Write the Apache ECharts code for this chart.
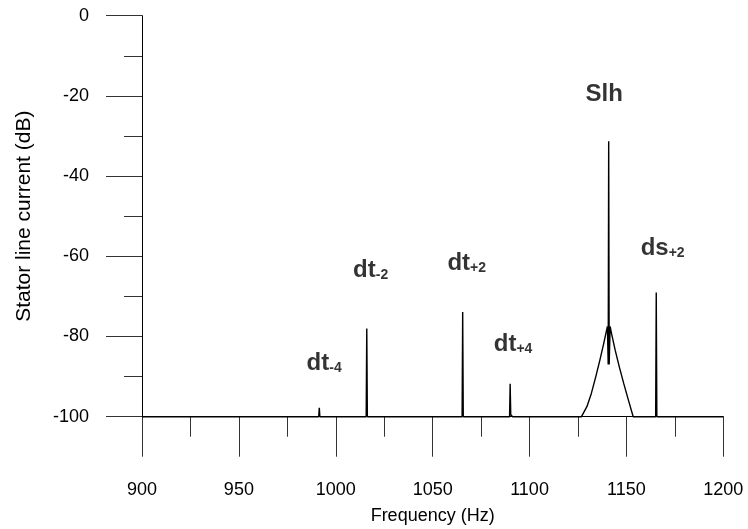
<!DOCTYPE html>
<html><head><meta charset="utf-8">
<script src="https://cdn.jsdelivr.net/npm/echarts@6/dist/echarts.min.js"></script>
<style>html,body{margin:0;padding:0;background:#fff}#c{width:748px;height:529px}</style>
</head><body><div id="c"></div>
<script>
// Spectrum (frequency in Hz, stator line current in dB)
const freqHz = [900, 991.2, 991.5, 991.8, 1015.7, 1016.0, 1016.3, 1065.2, 1065.5, 1065.8,
  1089.7, 1090.0, 1090.3, 1090.8, 1091.3,
  1126.8, 1129.6, 1131.9, 1134.2, 1136.3, 1138.3, 1139.6, 1140.2, 1140.6, 1140.85, 1141.1,
  1141.6, 1142.3, 1144.2, 1146.3, 1148.6, 1151.0, 1153.5,
  1165.1, 1165.4, 1165.7, 1200];
const currentDb = [-100, -100, -97.8, -100, -100, -78, -100, -100, -73.9, -100,
  -100, -91.8, -99.5, -99.2, -100,
  -100, -97.5, -94.2, -90.0, -85.9, -81.7, -78.8, -77.5, -87, -31.3, -87,
  -77.5, -79.2, -83.4, -87.5, -91.7, -95.8, -100,
  -100, -69, -100, -100];

// Annotation labels (main text, subscript, anchor frequency, anchor dB)
const annoMain = ['dt', 'dt', 'dt', 'dt', 'Slh', 'ds'];
const annoSub = ['-4', '-2', '+2', '+4', '', '+2'];
const annoFreq = [994.0, 1018.0, 1067.6, 1091.5, 1138.5, 1168.7];
const annoDb = [-86.7, -63.4, -61.8, -82.0, -19.7, -58.0];

const xMin = 900, xMax = 1200, xStep = 50;
const yMin = -100, yMax = 0, yStep = 20;

const regular = "'Liberation Sans',Arial,sans-serif";

const chart = echarts.init(document.getElementById('c'), null, {renderer: 'canvas'});
const lineData = freqHz.map((f, i) => [f, currentDb[i]]);
const annoData = annoMain.map((t, i) => ({
  value: [annoFreq[i], annoDb[i]],
  name: annoSub[i] ? '{b|' + t + '}{s|' + annoSub[i] + '}' : '{b|' + t + '}'
}));

chart.setOption({
  animation: false,
  backgroundColor: '#fff',
  grid: {left: 142, right: 24.7, top: 15.7, bottom: 112.3, containLabel: false, outerBoundsMode: 'none'},
  xAxis: {
    type: 'value', min: xMin, max: xMax, interval: xStep,
    axisLine: {show: true, onZero: false, lineStyle: {color: '#000', width: 1}},
    axisTick: {show: true, inside: false, length: 40, lineStyle: {color: '#333', width: 1}},
    minorTick: {show: true, splitNumber: 2, length: 20, lineStyle: {color: '#333', width: 1}},
    splitLine: {show: false},
    axisLabel: {fontSize: 18, fontFamily: regular, color: '#000', margin: 64, formatter: v => String(v)},
    name: 'Frequency (Hz)', nameLocation: 'middle', nameGap: 90,
    nameTextStyle: {fontSize: 18, fontFamily: regular, color: '#000'}
  },
  yAxis: {
    type: 'value', min: yMin, max: yMax, interval: yStep,
    axisLine: {show: true, onZero: false, lineStyle: {color: '#000', width: 1}},
    axisTick: {show: true, inside: false, length: 36, lineStyle: {color: '#333', width: 1}},
    minorTick: {show: true, splitNumber: 2, length: 18, lineStyle: {color: '#333', width: 1}},
    splitLine: {show: false},
    axisLabel: {fontSize: 18, fontFamily: regular, color: '#000', margin: 53, formatter: v => String(v)},
    name: 'Stator line current (dB)', nameLocation: 'middle', nameGap: 107,
    nameTextStyle: {fontSize: 21, fontFamily: regular, color: '#000'}
  },
  series: [
    {
      type: 'line', data: lineData, symbol: 'none', clip: false, silent: true,
      lineStyle: {color: '#000', width: 1.4}
    },
    {
      type: 'scatter', data: annoData, symbolSize: 1, silent: true,
      itemStyle: {color: 'rgba(0,0,0,0)'},
      label: {
        show: true, position: 'inside', formatter: p => p.name,
        rich: {
          b: {fontSize: 24, fontWeight: 'bold', fontFamily: regular, color: '#000', lineHeight: 24, verticalAlign: 'top'},
          s: {fontSize: 14, fontWeight: 'bold', fontFamily: regular, color: '#000', lineHeight: 14, verticalAlign: 'bottom', padding: [13, 0, 0, 0]}
        }
      }
    }
  ]
});
</script>
</body></html>
